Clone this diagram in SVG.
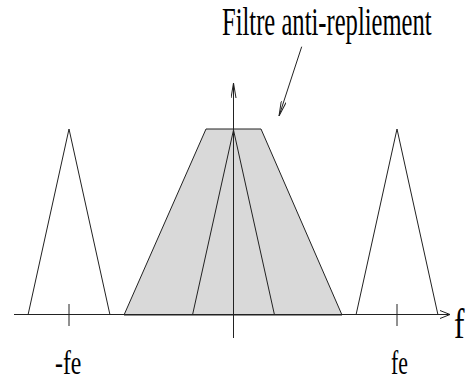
<svg xmlns="http://www.w3.org/2000/svg" width="466" height="381" viewBox="0 0 466 381">
  <style>
    .ln { fill: none; stroke: #222; stroke-width: 1; }
    .filt { fill: #d9d9d9; stroke: #222; stroke-width: 1; }
    .txt { font-family: "Liberation Serif", "Times New Roman", serif; fill: #000; }
  </style>
  <defs>
    <marker id="arrLong" viewBox="0 0 15 6" refX="15" refY="3" markerWidth="15" markerHeight="6" markerUnits="userSpaceOnUse" orient="auto">
      <path d="M0,0.5 L15,3 L0,5.5" fill="none" stroke="#222" stroke-width="1"/>
    </marker>
    <marker id="arrShort" viewBox="0 0 10 9" refX="10" refY="4.5" markerWidth="10" markerHeight="9" markerUnits="userSpaceOnUse" orient="auto">
      <path d="M0,0.5 L10,4.5 L0,8.5" fill="none" stroke="#222" stroke-width="1"/>
    </marker>
  </defs>

  <g id="filter">
    <polygon class="filt" points="124,315 206,129 261,129 342,315"/>
    <polyline class="ln" points="192.5,315 233.5,130 274.5,315"/>
  </g>

  <g id="spectrum-left">
    <polyline class="ln" points="28,315 69,129 110,315"/>
  </g>
  <g id="spectrum-right">
    <polyline class="ln" points="356,315 397,129 438,315"/>
  </g>

  <g id="connectors">
    <line class="ln" x1="14" y1="314.5" x2="450" y2="314.5" marker-end="url(#arrShort)"/>
    <line class="ln" x1="233.5" y1="338" x2="233.5" y2="83" marker-end="url(#arrLong)"/>
    <line class="ln" x1="301.7" y1="46.7" x2="279" y2="116" marker-end="url(#arrLong)"/>
    <line class="ln" x1="69" y1="304" x2="69" y2="326"/>
    <line class="ln" x1="397" y1="304" x2="397" y2="326"/>
  </g>

  <g id="labels">
    <text class="txt" transform="translate(222,35) scale(0.6,1)" font-size="41">Filtre anti-repliement</text>
    <text class="txt" transform="translate(55,374) scale(0.72,1)" font-size="33">-fe</text>
    <text class="txt" transform="translate(391,374) scale(0.66,1)" font-size="33">fe</text>
    <text class="txt" transform="translate(454,338) scale(0.75,1)" font-size="42">f</text>
  </g>
</svg>
